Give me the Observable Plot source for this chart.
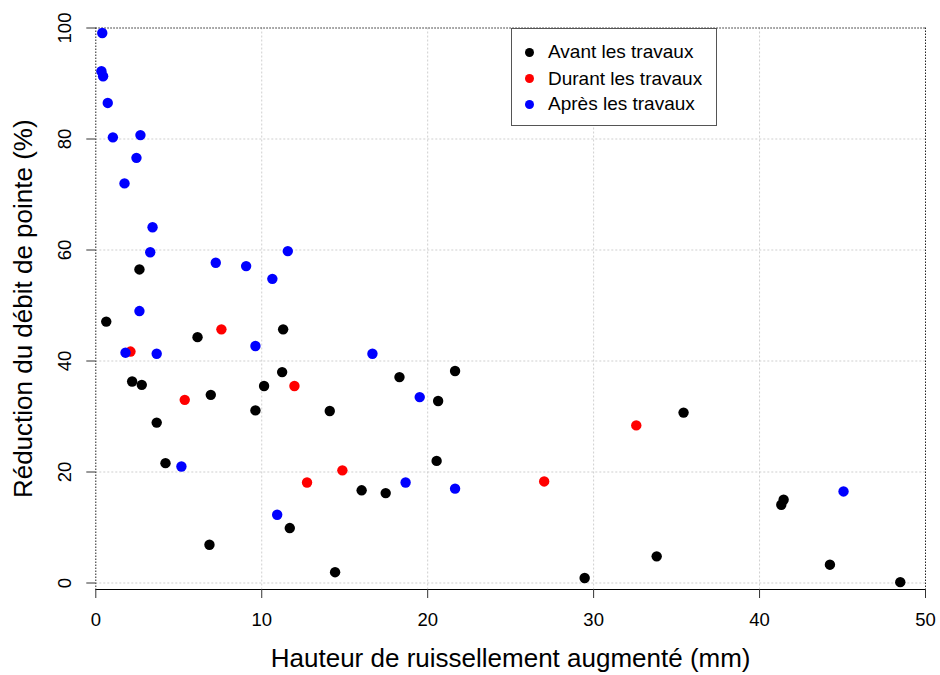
<!DOCTYPE html>
<html>
<head>
<meta charset="utf-8">
<script src="https://cdn.jsdelivr.net/npm/d3@7"></script>
<script src="https://cdn.jsdelivr.net/npm/@observablehq/plot@0.6"></script>
<style>
  body { margin: 0; background: #fff; font-family: "Liberation Sans", Arial, sans-serif; }
  #wrap { position: relative; width: 940px; height: 675px; }
  #wrap svg { display: block; }
  #legend { position: absolute; left: 511px; top: 28px; width: 206px; height: 98px; border: 1px solid #555; background: #fff; box-sizing: border-box; }
  .item { position: absolute; left: 0; height: 22px; display: flex; align-items: center; font-size: 19px; color: #000; white-space: nowrap; }
  .dot { width: 9px; height: 9px; border-radius: 50%; margin-left: 13px; margin-right: 14px; flex: none; }
</style>
</head>
<body>
<div id="wrap"><div id="legend"></div></div>
<script>
// ---- data ----
const seriesNames = ["Avant les travaux", "Durant les travaux", "Après les travaux"];
const seriesColors = ["#000000", "#ff0000", "#0000ff"];

const avantX = [2.63, 0.63, 11.29, 6.13, 11.23, 2.19, 2.77, 10.14, 6.93, 9.62, 3.67, 4.20, 11.69, 6.85, 18.30, 21.65, 20.63, 14.10, 20.54, 16.02, 17.47, 14.42, 29.46, 35.42, 41.45, 41.31, 33.80, 44.24, 48.48];
const avantY = [56.5, 47.1, 45.7, 44.3, 38.0, 36.3, 35.7, 35.5, 33.9, 31.1, 28.9, 21.6, 9.9, 6.9, 37.1, 38.2, 32.8, 31.0, 22.0, 16.7, 16.2, 1.95, 0.9, 30.7, 15.0, 14.1, 4.8, 3.3, 0.15];

const durantX = [7.57, 2.09, 11.97, 5.36, 12.73, 14.86, 27.02, 32.57];
const durantY = [45.7, 41.7, 35.5, 33.0, 18.1, 20.3, 18.3, 28.4];

const apresX = [0.39, 0.34, 0.44, 0.72, 1.03, 2.69, 2.45, 1.73, 3.42, 3.28, 11.57, 7.23, 9.06, 10.64, 2.63, 9.62, 1.79, 3.67, 5.16, 10.93, 16.67, 19.52, 18.67, 21.65, 45.06];
const apresY = [99.1, 92.2, 91.3, 86.5, 80.3, 80.7, 76.6, 72.0, 64.1, 59.6, 59.8, 57.7, 57.1, 54.8, 49.0, 42.7, 41.5, 41.3, 21.0, 12.3, 41.3, 33.5, 18.1, 17.0, 16.5];

const xTicks = [0, 10, 20, 30, 40, 50];
const yTicks = [0, 20, 40, 60, 80, 100];
const xGrid = [10, 20, 30, 40];
const yGrid = [0, 20, 40, 60, 80];
const xDomain = [0, 50];
const yDomain = [-1.17, 100];
const xTitle = "Hauteur de ruissellement augmenté (mm)";
const yTitle = "Réduction du débit de pointe (%)";

// ---- build table ----
const table = [];
[[avantX, avantY], [durantX, durantY], [apresX, apresY]].forEach(([xs, ys], s) => {
  xs.forEach((x, i) => table.push({x, y: ys[i], serie: seriesNames[s]}));
});

const chart = Plot.plot({
  width: 940,
  height: 675,
  marginLeft: 95.3,
  marginRight: 15,
  marginTop: 27.5,
  marginBottom: 86,
  style: { fontFamily: "'Liberation Sans', Arial, sans-serif", fontSize: "18.5px", background: "#fff", color: "#000" },
  x: { domain: xDomain, axis: null },
  y: { domain: yDomain, axis: null },
  color: { domain: seriesNames, range: seriesColors },
  marks: [
    Plot.gridX(xGrid, { stroke: "#cfcfcf", strokeOpacity: 1, strokeDasharray: "2,2" }),
    Plot.gridY(yGrid, { stroke: "#cfcfcf", strokeOpacity: 1, strokeDasharray: "2,2" }),
    Plot.ruleX(xDomain, { stroke: "#222", strokeDasharray: "1.5,1.5" }),
    Plot.ruleY([yDomain[1]], { stroke: "#222", strokeDasharray: "1.5,1.5" }),
    Plot.ruleY([yDomain[0]], { x1: xDomain[0], x2: xDomain[1], stroke: "#000", strokeWidth: 1 }),
    Plot.axisX({ ticks: xTicks, tickSize: 9, tickPadding: 14.5, stroke: "#333", fontSize: 18.5, label: null, tickFormat: d => String(d) }),
    Plot.axisY({ ticks: yTicks, tickSize: 9, stroke: "#333", label: null, tickFormat: () => "" }),
    Plot.text(yTicks, { y: d => d, frameAnchor: "left", dx: -24.6, rotate: -90, lineAnchor: "bottom", textAnchor: "middle", text: d => String(d), fontSize: 18.5, fill: "#000" }),
    Plot.text([xTitle], { frameAnchor: "bottom", dy: 77.7, lineAnchor: "bottom", textAnchor: "middle", text: d => d, fontSize: 26, fill: "#000" }),
    Plot.text([yTitle], { frameAnchor: "left", dx: -64.3, rotate: -90, lineAnchor: "bottom", textAnchor: "middle", text: d => d, fontSize: 26, fill: "#000" }),
    Plot.dot(table, { x: "x", y: "y", fill: "serie", r: 5.2, stroke: null })
  ]
});
document.getElementById("wrap").insertBefore(chart, document.getElementById("legend"));

// ---- legend ----
const legend = document.getElementById("legend");
const rowCenters = [23, 49.5, 75];
seriesNames.forEach((name, i) => {
  const item = document.createElement("div");
  item.className = "item";
  item.style.top = (rowCenters[i] - 11) + "px";
  const dot = document.createElement("span");
  dot.className = "dot";
  dot.style.background = seriesColors[i];
  const label = document.createElement("span");
  label.textContent = name;
  item.appendChild(dot);
  item.appendChild(label);
  legend.appendChild(item);
});
</script>
</body>
</html>
